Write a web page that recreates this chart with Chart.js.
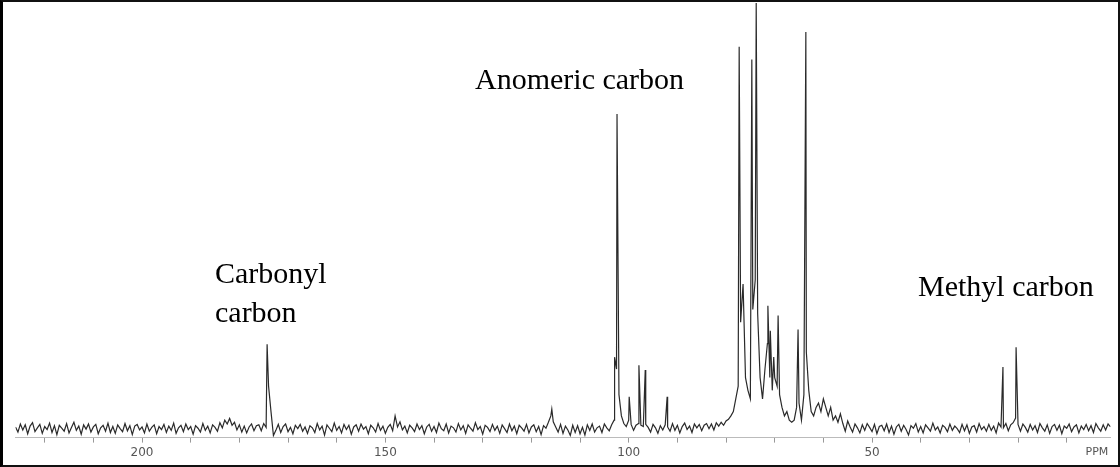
<!DOCTYPE html>
<html lang="en">
<head>
    <meta charset="UTF-8">
    <title>13C NMR spectrum</title>
    <script src="https://cdn.jsdelivr.net/npm/chart.js"></script>
    <style>
        body { margin: 0; background: #fff; }
        #frame {
            position: absolute; left: 0; top: 0;
            width: 1120px; height: 467px;
            box-sizing: border-box;
            border: 2px solid #111; border-left: 3px solid #000;
        }
        #box { position: absolute; left: 0; top: 0; width: 1115px; height: 462px; }
        .lbl {
            position: absolute; font-family: "Liberation Serif", serif;
            font-size: 30px; line-height: 39px; color: #000; white-space: nowrap;
        }
    </style>
</head>
<body>
    <div id="frame">
        <div id="box"><canvas id="nmr"></canvas></div>
        <div class="lbl" style="left:212px; top:251px;">Carbonyl<br>carbon</div>
        <div class="lbl" style="left:472px; top:57px;">Anomeric carbon</div>
        <div class="lbl" style="left:915px; top:264px;">Methyl carbon</div>
    </div>

    <script>
        // baseline (noise) sampled every 0.5 ppm, from 226 ppm down to 1 ppm
        const noiseStart = 226;
        const noiseStep = 0.5;
        const noise = [
            0.4,-0.8,1.1,-0.3,0.9,-1.2,0.6,1.4,-0.7,0.2,1.0,-1.1,0.5,-0.2,1.3,-0.9,0.7,-1.4,0.8,0.1,
            -0.6,1.2,-1.0,0.3,1.5,-0.4,0.6,-1.3,0.9,-0.1,1.1,-0.8,0.4,1.0,-1.2,0.2,0.8,-0.6,1.3,-0.9,
            0.5,-1.1,0.9,0.0,-0.7,1.2,-0.5,0.7,-1.4,0.6,1.0,-0.3,0.4,-1.0,1.1,-0.6,0.3,0.9,-1.2,0.5,
            -0.2,1.0,-0.9,0.6,-0.4,1.3,-1.1,0.2,0.8,-0.7,1.1,-0.2,0.5,-1.3,0.7,0.1,-0.8,1.2,-0.4,0.6,
            -1.0,0.9,0.3,-0.6,1.4,0.2,2.0,1.1,2.4,0.8,1.5,-0.3,0.9,-0.8,0.6,-1.0,0.4,1.1,-0.5,0.7,
            0.9,-0.5,1.2,0.3,10,4,-1.6,-0.4,1.0,-0.9,0.5,1.1,-0.7,0.3,-1.2,0.8,0.0,1.0,-0.6,0.4,
            -1.1,0.7,0.2,-0.9,1.2,-0.3,0.6,-1.5,0.9,0.1,-0.7,1.3,-0.4,0.5,-1.0,1.0,-0.2,0.8,-1.3,0.4,
            0.9,-0.6,1.1,-0.1,0.5,-1.2,0.8,0.2,-0.8,1.2,-0.4,0.6,-1.1,0.3,1.0,-0.5,3.0,0.4,1.6,-0.3,
            0.6,-1.0,0.8,0.2,-0.7,1.1,-0.2,0.7,-1.2,0.4,1.0,-0.6,0.5,-0.9,1.3,0.0,-0.5,1.1,-1.0,0.6,
            0.2,-0.8,1.2,-0.3,0.7,-1.1,0.9,0.1,-0.6,1.4,-0.2,0.5,-1.3,0.8,0.3,-0.7,1.0,-0.4,0.6,-1.1,
            0.9,0.0,-0.9,1.1,-0.5,0.6,-1.2,0.8,0.2,-0.6,1.0,-1.0,0.4,0.9,-0.7,0.5,-1.4,0.7,0.1,1.5,
            3.0,1.6,0.4,-0.8,1.0,-1.1,0.6,-0.3,-1.6,0.8,-0.9,0.7,-1.2,0.3,-1.5,0.9,-0.4,1.1,-0.8,0.2,
            0.6,-0.9,1.1,0.2,-0.5,0.9,2.0,14,8,3.0,1.2,0.5,2.0,1.0,-0.4,0.8,1.2,0.8,0.5,1.0,
            0.3,-0.8,1.0,0.2,-1.1,0.7,-0.3,0.9,0.4,-0.6,1.2,-0.4,0.8,-1.0,0.5,1.3,-0.2,0.6,-0.9,1.1,
            0.2,1.0,-0.5,0.8,1.2,0.0,1.1,-0.3,1.4,0.6,1.5,0.8,1.8,2.2,3.0,4.0,7.0,10,25,34,
            12,9,7,28,35,27,12,7,14,20,12,9,12,10,8,5,3,4,2,1.5,
            2,5,6,2,8,18,9,4,3,5,6,4,7,5,3,5,2,3,1.5,3.5,
            1.2,-0.6,1.8,0.4,-0.8,1.1,0.2,-1.0,0.9,-0.4,1.2,0.3,-0.7,1.0,-1.2,0.5,0.8,-0.5,1.1,-0.9,
            0.6,-1.3,0.4,1.0,-0.6,0.8,-0.2,-1.5,0.7,0.1,1.2,-0.8,0.5,-1.0,0.9,0.2,-0.6,1.3,-0.3,0.4,
            -1.0,0.8,0.3,-0.7,1.1,-0.4,0.6,0.0,-0.9,1.0,-0.5,0.9,-1.1,0.4,0.7,-0.8,1.2,-0.2,0.5,-0.6,
            1.0,-0.4,0.6,-1.0,1.3,0.4,0.2,1.2,-0.5,0.9,1.4,2.5,1.0,-0.6,1.1,0.3,-0.8,1.0,-0.3,0.7,
            -0.9,1.2,0.2,-0.6,0.9,-1.1,0.5,1.0,-0.4,0.8,-1.2,0.6,0.1,1.1,-0.7,0.4,0.9,-1.0,0.6,-0.2,
            1.0,-0.5,0.7,-0.9,1.2,0.2,-0.6,0.9,-0.3,1.1,0.4
        ];

        // resolved peaks: position (ppm) and height (tallest = 100)
        const peakPpm = [174.3, 115.8, 102.9, 102.4, 99.9, 97.9, 96.6, 92.1,
                         77.3, 74.7, 73.8, 71.4, 70.9, 70.2, 69.3, 65.2, 63.6, 23.1, 20.4];
        const peakHeight = [19.8, 4.6, 16.8, 73.9, 7.5, 14.9, 13.8, 7.5,
                            89.7, 86.7, 100, 28.9, 23, 16.8, 26.6, 23.3, 93.2, 14.5, 19.1];

        // axis
        const tickValues = [220, 210, 200, 190, 180, 170, 160, 150, 140, 130, 120,
                            110, 100, 90, 80, 70, 60, 50, 40, 30, 20, 10];
        const labelledTicks = [200, 150, 100, 50];
        const unitLabel = 'PPM';

        // montando os pontos do espectro
        let pontos = noise.map((v, i) => ({ x: noiseStart - i * noiseStep, y: v }));
        peakPpm.forEach((p, i) => pontos.push({ x: p, y: peakHeight[i] }));
        pontos.sort((a, b) => b.x - a.x);

        const unitPlugin = {
            id: 'unitLabel',
            afterDraw(chart) {
                const ctx = chart.ctx;
                const xs = chart.scales.x;
                ctx.save();
                ctx.font = '11px "DejaVu Sans"';
                ctx.fillStyle = '#555';
                ctx.textAlign = 'center';
                ctx.textBaseline = 'top';
                ctx.fillText(unitLabel, xs.getPixelForValue(3.8), chart.chartArea.bottom + 9);
                ctx.restore();
            }
        };

        new Chart(document.getElementById('nmr'), {
            type: 'line',
            data: {
                datasets: [{
                    data: pontos,
                    borderColor: '#2a2a2a',
                    borderWidth: 1.2,
                    pointRadius: 0,
                    tension: 0,
                    fill: false
                }]
            },
            options: {
                responsive: true,
                maintainAspectRatio: false,
                animation: false,
                layout: { padding: { left: 12.5, right: 7.5, top: 1, bottom: 1 } },
                plugins: { legend: { display: false }, tooltip: { enabled: false } },
                scales: {
                    x: {
                        type: 'linear',
                        reverse: true,
                        min: 1,
                        max: 226,
                        afterBuildTicks: (scale) => { scale.ticks = tickValues.map(v => ({ value: v })); },
                        ticks: {
                            autoSkip: false,
                            maxRotation: 0,
                            padding: 3,
                            color: '#555',
                            font: { family: 'DejaVu Sans', size: 12 },
                            callback: (v) => labelledTicks.includes(v) ? String(v) : ''
                        },
                        grid: { drawOnChartArea: false, tickLength: 5, color: '#999' },
                        border: { display: true, color: '#bbb', width: 1 }
                    },
                    y: { display: false, min: -2.1, max: 100 }
                }
            },
            plugins: [unitPlugin]
        });
    </script>
</body>
</html>
